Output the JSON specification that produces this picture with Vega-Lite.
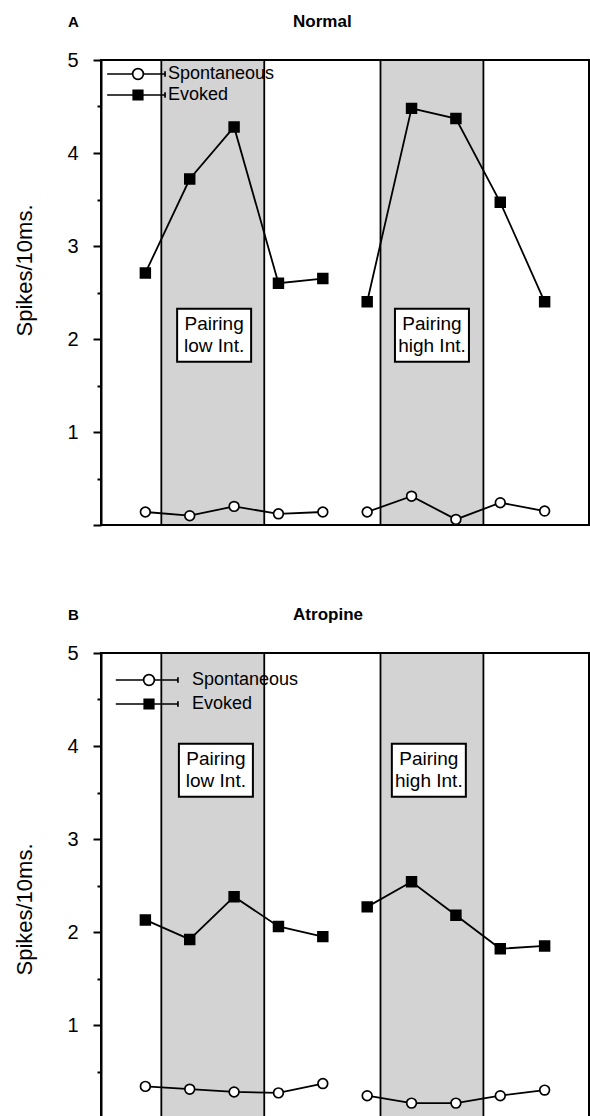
{
  "$schema": "https://vega.github.io/schema/vega-lite/v6.json",
  "background": "white",
  "padding": {"left": 12, "top": 11, "right": 0, "bottom": 0},
  "config": {
    "font": "Liberation Sans",
    "view": {"stroke": "black", "strokeWidth": 2},
    "axis": {
      "grid": false,
      "domainColor": "black",
      "domainWidth": 2,
      "tickColor": "black",
      "tickWidth": 2,
      "tickSize": 8,
      "labelColor": "black",
      "labelFont": "Liberation Sans",
      "labelFontSize": 20,
      "labelPadding": 15,
      "labelFlush": false,
      "labelOverlap": false,
      "titleColor": "black",
      "titleFont": "Liberation Sans",
      "titleFontSize": 22,
      "titleFontWeight": "normal"
    },
    "legend": {
      "title": null,
      "orient": "none",
      "padding": 0,
      "labelFontSize": 18,
      "labelFont": "Liberation Sans",
      "labelColor": "black",
      "symbolSize": 90,
      "symbolStrokeWidth": 1.7,
      "symbolOpacity": 1,
      "symbolOffset": 0.5
    }
  },
  "datasets": {
    "bands": [
      {"phase": "Pairing low Int.", "start": 0.36, "end": 2.68},
      {"phase": "Pairing high Int.", "start": 5.3, "end": 7.62}
    ],
    "normal": [
      {"t": 0, "block": 1, "series": "Evoked", "value": 2.71},
      {"t": 1, "block": 1, "series": "Evoked", "value": 3.72},
      {"t": 2, "block": 1, "series": "Evoked", "value": 4.28},
      {"t": 3, "block": 1, "series": "Evoked", "value": 2.6},
      {"t": 4, "block": 1, "series": "Evoked", "value": 2.65},
      {"t": 5, "block": 2, "series": "Evoked", "value": 2.4},
      {"t": 6, "block": 2, "series": "Evoked", "value": 4.48},
      {"t": 7, "block": 2, "series": "Evoked", "value": 4.37},
      {"t": 8, "block": 2, "series": "Evoked", "value": 3.47},
      {"t": 9, "block": 2, "series": "Evoked", "value": 2.4},
      {"t": 0, "block": 1, "series": "Spontaneous", "value": 0.14},
      {"t": 1, "block": 1, "series": "Spontaneous", "value": 0.1},
      {"t": 2, "block": 1, "series": "Spontaneous", "value": 0.2},
      {"t": 3, "block": 1, "series": "Spontaneous", "value": 0.12},
      {"t": 4, "block": 1, "series": "Spontaneous", "value": 0.14},
      {"t": 5, "block": 2, "series": "Spontaneous", "value": 0.14},
      {"t": 6, "block": 2, "series": "Spontaneous", "value": 0.31},
      {"t": 7, "block": 2, "series": "Spontaneous", "value": 0.06},
      {"t": 8, "block": 2, "series": "Spontaneous", "value": 0.24},
      {"t": 9, "block": 2, "series": "Spontaneous", "value": 0.15}
    ],
    "atropine": [
      {"t": 0, "block": 1, "series": "Evoked", "value": 2.13},
      {"t": 1, "block": 1, "series": "Evoked", "value": 1.92},
      {"t": 2, "block": 1, "series": "Evoked", "value": 2.38},
      {"t": 3, "block": 1, "series": "Evoked", "value": 2.06},
      {"t": 4, "block": 1, "series": "Evoked", "value": 1.95},
      {"t": 5, "block": 2, "series": "Evoked", "value": 2.27},
      {"t": 6, "block": 2, "series": "Evoked", "value": 2.54},
      {"t": 7, "block": 2, "series": "Evoked", "value": 2.18},
      {"t": 8, "block": 2, "series": "Evoked", "value": 1.82},
      {"t": 9, "block": 2, "series": "Evoked", "value": 1.85},
      {"t": 0, "block": 1, "series": "Spontaneous", "value": 0.34},
      {"t": 1, "block": 1, "series": "Spontaneous", "value": 0.31},
      {"t": 2, "block": 1, "series": "Spontaneous", "value": 0.28},
      {"t": 3, "block": 1, "series": "Spontaneous", "value": 0.27},
      {"t": 4, "block": 1, "series": "Spontaneous", "value": 0.37},
      {"t": 5, "block": 2, "series": "Spontaneous", "value": 0.24},
      {"t": 6, "block": 2, "series": "Spontaneous", "value": 0.16},
      {"t": 7, "block": 2, "series": "Spontaneous", "value": 0.16},
      {"t": 8, "block": 2, "series": "Spontaneous", "value": 0.24},
      {"t": 9, "block": 2, "series": "Spontaneous", "value": 0.3}
    ],
    "boxesNormal": [
      {"x": 1.55, "y": 2.04, "label": ["Pairing", "low Int."]},
      {"x": 6.46, "y": 2.04, "label": ["Pairing", "high Int."]}
    ],
    "boxesAtropine": [
      {"x": 1.59, "y": 3.74, "label": ["Pairing", "low Int."]},
      {"x": 6.39, "y": 3.74, "label": ["Pairing", "high Int."]}
    ],
    "headNormal": [
      {"letter": "A", "condition": "Normal"}
    ],
    "headAtropine": [
      {"letter": "B", "condition": "Atropine"}
    ]
  },
  "bounds": "flush",
  "spacing": 128,
  "resolve": {
    "scale": {"shape": "independent", "fill": "independent", "stroke": "independent"},
    "legend": {"shape": "independent", "fill": "independent", "stroke": "independent"}
  },
  "vconcat": [
    {
      "width": 488,
      "height": 465,
      "resolve": {"axis": {"y": "independent"}},
      "layer": [
        {
          "data": {"name": "bands"},
          "mark": {"type": "rect", "fill": "#d3d3d3", "stroke": "black", "strokeWidth": 1.8},
          "encoding": {
            "x": {"field": "start", "type": "quantitative", "scale": {"domain": [-1, 10], "nice": false, "zero": false}, "axis": null},
            "x2": {"field": "end"}
          }
        },
        {
          "data": {"name": "boxesNormal"},
          "mark": {"type": "point", "shape": "M-1,-0.716H1V0.716H-1Z", "size": 5476, "filled": true, "fill": "white", "stroke": "black", "strokeWidth": 2, "opacity": 1},
          "encoding": {
            "x": {"field": "x", "type": "quantitative", "axis": null},
            "y": {"field": "y", "type": "quantitative", "axis": null}
          }
        },
        {
          "data": {"name": "boxesNormal"},
          "mark": {"type": "text", "fontSize": 19, "lineHeight": 22, "align": "center", "baseline": "middle", "dy": -11, "color": "black"},
          "encoding": {
            "x": {"field": "x", "type": "quantitative", "axis": null},
            "y": {"field": "y", "type": "quantitative", "axis": null},
            "text": {"field": "label"}
          }
        },
        {
          "data": {"name": "normal"},
          "mark": {"type": "line", "color": "black", "strokeWidth": 1.8},
          "encoding": {
            "x": {"field": "t", "type": "quantitative", "axis": null},
            "y": {
              "field": "value", "type": "quantitative",
              "scale": {"domain": [0, 5], "nice": false, "zero": false},
              "axis": {"values": [0, 1, 2, 3, 4, 5], "title": "Spikes/10ms.", "labelExpr": "datum.value == 0 ? '' : datum.label", "titleAngle": 270, "titleAlign": "center", "titleBaseline": "alphabetic", "titleX": -70, "titleY": 210}
            },
            "detail": [{"field": "series"}, {"field": "block"}]
          }
        },
        {
          "data": {"name": "normal"},
          "mark": {"type": "point", "filled": true, "stroke": "black", "strokeWidth": 1.7, "size": 95, "opacity": 1},
          "encoding": {
            "x": {"field": "t", "type": "quantitative", "axis": null},
            "y": {"field": "value", "type": "quantitative", "axis": {"orient": "left", "values": [0.5, 1.5, 2.5, 3.5, 4.5], "labels": false, "domain": false, "tickSize": 4, "title": null}},
            "shape": {"condition": {"test": "datum.series === 'Evoked'", "value": "square"}, "value": "circle"},
            "fill": {"condition": {"test": "datum.series === 'Evoked'", "value": "black"}, "value": "white"}
          }
        },
        {
          "data": {"name": "normal"},
          "transform": [{"filter": "false"}],
          "mark": {"type": "point", "filled": true, "size": 90},
          "encoding": {
            "fill": {
              "field": "series", "type": "nominal",
              "scale": {"domain": ["Spontaneous", "Evoked"], "range": ["white", "black"]},
              "legend": {"title": null, "orient": "none", "legendX": 27.5, "legendY": 5, "labelOffset": 21, "rowPadding": 3}
            },
            "shape": {
              "field": "series", "type": "nominal",
              "scale": {"domain": ["Spontaneous", "Evoked"], "range": [
                "M-6.5,0H-1.13M1.13,0H5.7M5.7,-0.6V0.6M-1.13,0A1.13,1.13 0 1,0 1.13,0A1.13,1.13 0 1,0 -1.13,0Z",
                "M-6.5,0H5.7M5.7,-0.6V0.6M-1,-1H1V1H-1Z"
              ]},
              "legend": {"title": null, "orient": "none", "legendX": 27.5, "legendY": 5, "labelOffset": 21, "rowPadding": 3}
            },
            "stroke": {
              "field": "series", "type": "nominal",
              "scale": {"domain": ["Spontaneous", "Evoked"], "range": ["black", "black"]},
              "legend": {"title": null, "orient": "none", "legendX": 27.5, "legendY": 5, "labelOffset": 21, "rowPadding": 3}
            }
          }
        },
        {
          "data": {"name": "headNormal"},
          "mark": {"type": "text", "fontSize": 15, "fontWeight": "bold", "align": "left", "baseline": "alphabetic", "color": "black"},
          "encoding": {
            "x": {"datum": -1.744, "type": "quantitative", "axis": null},
            "y": {"datum": 5.355, "type": "quantitative", "axis": null},
            "text": {"field": "letter"}
          }
        },
        {
          "data": {"name": "headNormal"},
          "mark": {"type": "text", "fontSize": 17, "fontWeight": "bold", "align": "left", "baseline": "alphabetic", "color": "black"},
          "encoding": {
            "x": {"datum": 3.33, "type": "quantitative", "axis": null},
            "y": {"datum": 5.355, "type": "quantitative", "axis": null},
            "text": {"field": "condition"}
          }
        }
      ]
    },
    {
      "width": 488,
      "height": 465,
      "resolve": {"axis": {"y": "independent"}},
      "layer": [
        {
          "data": {"name": "bands"},
          "mark": {"type": "rect", "fill": "#d3d3d3", "stroke": "black", "strokeWidth": 1.8},
          "encoding": {
            "x": {"field": "start", "type": "quantitative", "scale": {"domain": [-1, 10], "nice": false, "zero": false}, "axis": null},
            "x2": {"field": "end"}
          }
        },
        {
          "data": {"name": "boxesAtropine"},
          "mark": {"type": "point", "shape": "M-1,-0.716H1V0.716H-1Z", "size": 5476, "filled": true, "fill": "white", "stroke": "black", "strokeWidth": 2, "opacity": 1},
          "encoding": {
            "x": {"field": "x", "type": "quantitative", "axis": null},
            "y": {"field": "y", "type": "quantitative", "axis": null}
          }
        },
        {
          "data": {"name": "boxesAtropine"},
          "mark": {"type": "text", "fontSize": 19, "lineHeight": 22, "align": "center", "baseline": "middle", "dy": -11, "color": "black"},
          "encoding": {
            "x": {"field": "x", "type": "quantitative", "axis": null},
            "y": {"field": "y", "type": "quantitative", "axis": null},
            "text": {"field": "label"}
          }
        },
        {
          "data": {"name": "atropine"},
          "mark": {"type": "line", "color": "black", "strokeWidth": 1.8},
          "encoding": {
            "x": {"field": "t", "type": "quantitative", "axis": null},
            "y": {
              "field": "value", "type": "quantitative",
              "scale": {"domain": [0, 5], "nice": false, "zero": false},
              "axis": {"values": [0, 1, 2, 3, 4, 5], "title": "Spikes/10ms.", "labelExpr": "datum.value == 0 ? '' : datum.label", "titleAngle": 270, "titleAlign": "center", "titleBaseline": "alphabetic", "titleX": -70, "titleY": 256}
            },
            "detail": [{"field": "series"}, {"field": "block"}]
          }
        },
        {
          "data": {"name": "atropine"},
          "mark": {"type": "point", "filled": true, "stroke": "black", "strokeWidth": 1.7, "size": 95, "opacity": 1},
          "encoding": {
            "x": {"field": "t", "type": "quantitative", "axis": null},
            "y": {"field": "value", "type": "quantitative", "axis": {"orient": "left", "values": [0.5, 1.5, 2.5, 3.5, 4.5], "labels": false, "domain": false, "tickSize": 4, "title": null}},
            "shape": {"condition": {"test": "datum.series === 'Evoked'", "value": "square"}, "value": "circle"},
            "fill": {"condition": {"test": "datum.series === 'Evoked'", "value": "black"}, "value": "white"}
          }
        },
        {
          "data": {"name": "atropine"},
          "transform": [{"filter": "false"}],
          "mark": {"type": "point", "filled": true, "size": 90},
          "encoding": {
            "fill": {
              "field": "series", "type": "nominal",
              "scale": {"domain": ["Spontaneous", "Evoked"], "range": ["white", "black"]},
              "legend": {"title": null, "orient": "none", "legendX": 38.5, "legendY": 18, "labelOffset": 34, "rowPadding": 6}
            },
            "shape": {
              "field": "series", "type": "nominal",
              "scale": {"domain": ["Spontaneous", "Evoked"], "range": [
                "M-7,0H-1.13M1.13,0H6.1M6.1,-0.6V0.6M-1.13,0A1.13,1.13 0 1,0 1.13,0A1.13,1.13 0 1,0 -1.13,0Z",
                "M-7,0H6.1M6.1,-0.6V0.6M-1,-1H1V1H-1Z"
              ]},
              "legend": {"title": null, "orient": "none", "legendX": 38.5, "legendY": 18, "labelOffset": 34, "rowPadding": 6}
            },
            "stroke": {
              "field": "series", "type": "nominal",
              "scale": {"domain": ["Spontaneous", "Evoked"], "range": ["black", "black"]},
              "legend": {"title": null, "orient": "none", "legendX": 38.5, "legendY": 18, "labelOffset": 34, "rowPadding": 6}
            }
          }
        },
        {
          "data": {"name": "headAtropine"},
          "mark": {"type": "text", "fontSize": 15, "fontWeight": "bold", "align": "left", "baseline": "alphabetic", "color": "black"},
          "encoding": {
            "x": {"datum": -1.744, "type": "quantitative", "axis": null},
            "y": {"datum": 5.355, "type": "quantitative", "axis": null},
            "text": {"field": "letter"}
          }
        },
        {
          "data": {"name": "headAtropine"},
          "mark": {"type": "text", "fontSize": 17, "fontWeight": "bold", "align": "left", "baseline": "alphabetic", "color": "black"},
          "encoding": {
            "x": {"datum": 3.33, "type": "quantitative", "axis": null},
            "y": {"datum": 5.355, "type": "quantitative", "axis": null},
            "text": {"field": "condition"}
          }
        }
      ]
    }
  ]
}
